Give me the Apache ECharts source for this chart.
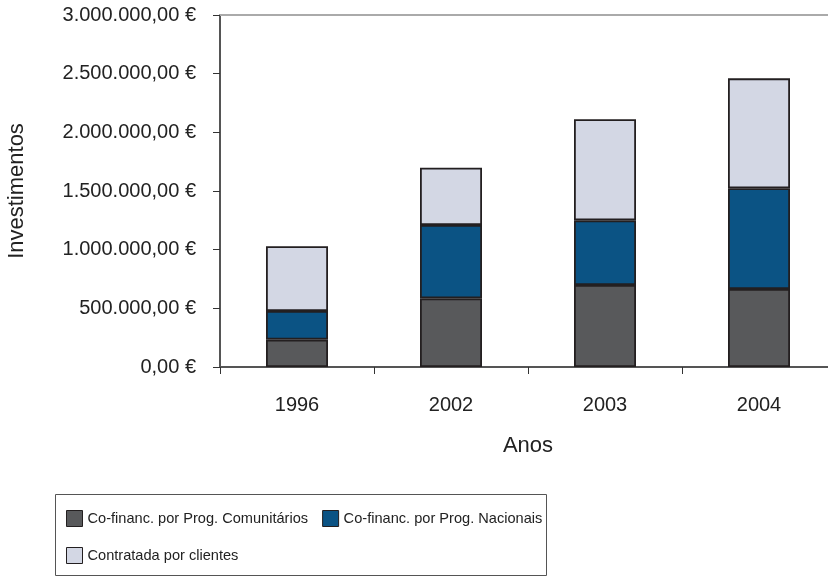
<!DOCTYPE html>
<html>
<head>
<meta charset="utf-8">
<script src="https://cdn.jsdelivr.net/npm/echarts@6/dist/echarts.min.js"></script>
<style>
  html, body { margin: 0; padding: 0; background: #fff; }
  #chart { width: 828px; height: 576px; }
</style>
</head>
<body>
<div id="chart"></div>
<script>
var anos = ['1996', '2002', '2003', '2004'];
var comunitarios = [233000, 585000, 699000, 665000];
var nacionais = [244000, 625000, 551000, 858000];
var clientes = [552000, 489000, 861000, 937000];

var nomes = ['Co-financ. por Prog. Comunitários', 'Co-financ. por Prog. Nacionais', 'Contratada por clientes'];
var cores = ['#58595b', '#0b5384', '#d3d7e4'];

function euro(v) {
  var s = Math.round(v).toString().replace(/\B(?=(\d{3})+(?!\d))/g, '.');
  return s + ',00 €';
}

var chart = echarts.init(document.getElementById('chart'));

var fonte = 'Liberation Sans, Arial, sans-serif';
var legendaTexto = { fontFamily: fonte, fontSize: 14.6, color: '#222' };

function serie(i, dados) {
  return {
    name: nomes[i],
    type: 'bar',
    stack: 'total',
    barWidth: 62,
    data: dados,
    itemStyle: { color: cores[i], borderColor: '#231f20', borderWidth: 1.8 }
  };
}

option = {
  animation: false,
  textStyle: { fontFamily: fonte },
  grid: { left: 220, right: -8, top: 15, bottom: 209, outerBoundsMode: 'none', containLabel: false },
  legend: [
    {
      data: [nomes[0], nomes[1]],
      left: 66, top: 510,
      itemWidth: 16, itemHeight: 16, itemGap: 14,
      icon: 'rect',
      itemStyle: { borderColor: '#231f20', borderWidth: 1 },
      textStyle: legendaTexto,
      padding: 0
    },
    {
      data: [nomes[2]],
      left: 66, top: 547,
      itemWidth: 16, itemHeight: 16,
      icon: 'rect',
      itemStyle: { borderColor: '#231f20', borderWidth: 1 },
      textStyle: legendaTexto,
      padding: 0
    }
  ],
  graphic: [{
    type: 'rect',
    shape: { x: 55.5, y: 494.5, width: 491, height: 81 },
    style: { fill: 'none', stroke: '#555', lineWidth: 1 }
  }],
  xAxis: [
    {
      type: 'category',
      data: anos,
      name: 'Anos',
      nameLocation: 'middle',
      nameGap: 68,
      nameTextStyle: { fontSize: 22, color: '#222' },
      axisLine: { lineStyle: { color: '#555', width: 2 } },
      axisTick: { show: true, length: 7, lineStyle: { color: '#333' } },
      axisLabel: { fontSize: 20, color: '#222', margin: 28 }
    },
    {
      type: 'category',
      data: anos,
      position: 'top',
      axisLine: { lineStyle: { color: '#aaa', width: 2 } },
      axisTick: { show: false },
      axisLabel: { show: false }
    }
  ],
  yAxis: {
    type: 'value',
    min: 0, max: 3000000, interval: 500000,
    name: 'Investimentos',
    nameLocation: 'middle',
    nameGap: 192,
    nameTextStyle: { fontSize: 22, color: '#222' },
    axisLine: { show: true, lineStyle: { color: '#555', width: 2 } },
    axisTick: { show: true, length: 7, lineStyle: { color: '#333' } },
    splitLine: { show: false },
    axisLabel: { fontSize: 20, color: '#222', margin: 24, formatter: euro }
  },
  series: [
    serie(0, comunitarios),
    serie(1, nacionais),
    serie(2, clientes)
  ]
};

chart.setOption(option);
</script>
</body>
</html>
